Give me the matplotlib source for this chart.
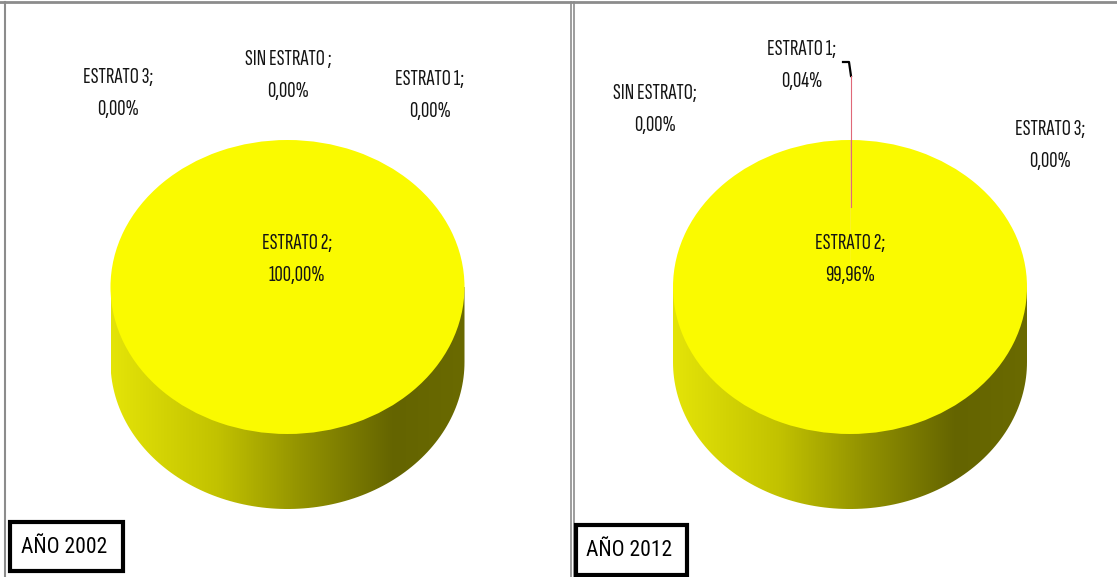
import numpy as np
import matplotlib
matplotlib.use("Agg")
import matplotlib.pyplot as plt
from matplotlib.patches import Wedge, Rectangle, PathPatch
from matplotlib.path import Path
from matplotlib.transforms import Affine2D

plt.rcParams['font.family'] = ['Sofia Sans Extra Condensed', 'DejaVu Sans']

# data for both years
categorias = ["ESTRATO 1", "ESTRATO 2", "ESTRATO 3", "SIN ESTRATO"]
valores_2002 = [0.00, 100.00, 0.00, 0.00]
valores_2012 = [0.04, 99.96, 0.00, 0.00]
titulos = ["AÑO 2002", "AÑO 2012"]

colores = ["#e03030", "#fafa00", "#3050c0", "#40a040"]

W, H = 1117, 577
fig = plt.figure(figsize=(W / 100, H / 100), dpi=100)
ax = fig.add_axes([0, 0, 1, 1])
ax.set_xlim(0, W)
ax.set_ylim(H, 0)
ax.axis('off')

# panel frames
gris = "#8c8c8c"
ax.plot([0, W], [2, 2], color=gris, lw=2)
ax.plot([5, 5], [2, H], color=gris, lw=1.5)
ax.plot([570.5, 570.5], [2, H], color=gris, lw=1.2)
ax.plot([573.5, 573.5], [2, H], color=gris, lw=1.2)

# side gradient (light yellow -> dark olive)
stops = np.array([0.0, 0.3, 0.55, 0.8, 1.0])
rgb = np.array([[228, 228, 8], [194, 194, 0], [144, 144, 0], [100, 100, 0], [106, 106, 0]]) / 255
t = np.linspace(0, 1, 400)
grad = np.stack([np.interp(t, stops, rgb[:, k]) for k in range(3)], axis=-1)[None, :, :]


def cilindro(cx, cy, a, b, prof, valores, etiquetas):
    # side of the cylinder: rectangle + lower half of the base ellipse
    ang = np.linspace(0, np.pi, 120)
    xs = cx + a * np.cos(ang)
    ys = cy + prof + b * np.sin(ang)
    verts = [(cx + a, cy)] + list(zip(xs, ys)) + [(cx - a, cy), (cx + a, cy)]
    lado = Path(verts, closed=True)
    parche = PathPatch(lado, facecolor='none', edgecolor='none')
    ax.add_patch(parche)
    im = ax.imshow(grad, extent=[cx - a, cx + a, cy + prof + b, cy], aspect='auto',
                   interpolation='bilinear', zorder=1)
    im.set_clip_path(parche)

    # top face: wedges clockwise from 12 o'clock
    tr = Affine2D().scale(a, -b).translate(cx, cy) + ax.transData
    total = sum(valores)
    inicio = 90.0
    for v, c in zip(valores, colores):
        if v <= 0:
            continue
        fin = inicio - 360.0 * v / total
        w = Wedge((0, 0), 1, fin, inicio, facecolor=c, edgecolor='none',
                  transform=tr, zorder=2)
        ax.add_patch(w)
        inicio = fin

    # data labels: name on one line, percentage below
    for nombre, v, (x, y) in etiquetas:
        ax.text(x, y, f"{nombre};", ha='center', va='center', fontsize=16.5,
                color='#141414', zorder=5)
        ax.text(x, y + 32, f"{v:.2f}%".replace(".", ","), ha='center', va='center',
                fontsize=16.5, color='#141414', zorder=5)


pos_2002 = {"ESTRATO 1": (430, 80), "ESTRATO 2": (297, 244),
            "ESTRATO 3": (118, 78), "SIN ESTRATO": (288, 60)}
pos_2012 = {"ESTRATO 1": (802, 50), "ESTRATO 2": (850, 244),
            "ESTRATO 3": (1050, 130), "SIN ESTRATO": (655, 93)}
nombres_2002 = {"SIN ESTRATO": "SIN ESTRATO "}
nombres_2012 = {}

etq = [(nombres_2002.get(n, n), v, pos_2002[n]) for n, v in zip(categorias, valores_2002)]
cilindro(287.5, 287, 177, 147, 75, valores_2002, etq)
etq = [(nombres_2012.get(n, n), v, pos_2012[n]) for n, v in zip(categorias, valores_2012)]
cilindro(850, 287, 177, 147, 75, valores_2012, etq)

# leader line for the small slice
ax.plot([843, 849, 851], [62, 62, 76], color='black', lw=1.6, zorder=4)
ax.plot([850.5, 850.5], [76, 207], color='#e06878', lw=0.8, zorder=4)

# year boxes
for (x0, y0, w, h), tit in zip([(10, 522, 113, 49), (576, 525, 111, 50)], titulos):
    ax.add_patch(Rectangle((x0, y0), w, h, facecolor='white', edgecolor='black',
                           lw=3, zorder=6))
    ax.text(x0 + w / 2 - 2, y0 + h / 2 + 1, tit, ha='center', va='center',
            fontsize=15.5, family=['Roboto Condensed', 'DejaVu Sans'],
            color='black', zorder=7)

fig.savefig("out.png", dpi=100)
